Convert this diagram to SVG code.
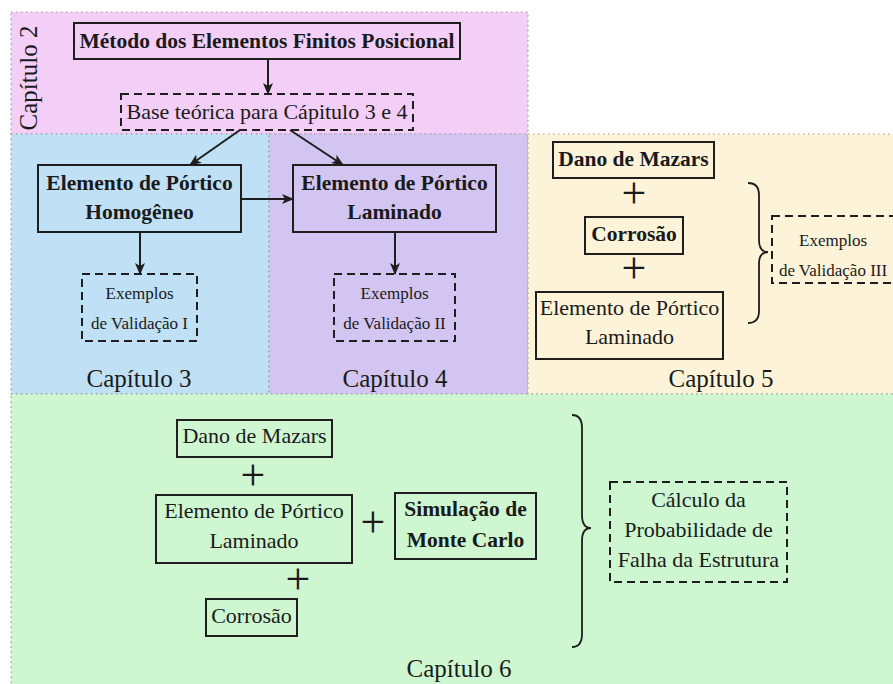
<svg xmlns="http://www.w3.org/2000/svg" width="893" height="684" viewBox="0 0 893 684" font-family="Liberation Serif, Times New Roman, serif">
<defs>
<style>
.reg{stroke:#9a9a9a;stroke-width:1.2;stroke-dasharray:1.5 3.5}
.box{fill:none;stroke:#1e1e1e;stroke-width:2}
.dbox{fill:none;stroke:#1e1e1e;stroke-width:2;stroke-dasharray:8 5}
.t{fill:#1a1a1a;text-anchor:middle}
.b{font-weight:bold;font-size:21.5px}
.n{font-size:22px}
.s{font-size:17px}
.cap{font-size:25px}
.plus{font-size:44px;fill:#1a1a1a;text-anchor:middle}
.con{fill:none;stroke:#1e1e1e;stroke-width:2}
.brace{fill:none;stroke:#1e1e1e;stroke-width:1.8}
</style>
<marker id="ah" viewBox="0 0 12 10" refX="11" refY="5" markerWidth="12" markerHeight="10" markerUnits="userSpaceOnUse" orient="auto">
<path d="M0,0 L12,5 L0,10 L3,5 Z" fill="#1e1e1e"/>
</marker>
</defs>
<rect width="893" height="684" fill="#ffffff"/>
<g id="regions">
<rect class="reg" x="11" y="12" width="517" height="122" fill="#f3cef7"/>
<rect class="reg" x="11" y="134" width="258" height="260" fill="#bfe0f5"/>
<rect class="reg" x="269" y="134" width="259" height="260" fill="#d2c5f1"/>
<rect class="reg" x="528" y="134" width="370" height="260" fill="#fdf3d8"/>
<rect class="reg" x="11" y="394" width="887" height="295" fill="#cdf6d1"/>
</g>
<g id="labels" font-family="Liberation Serif, serif">
<text class="t cap" transform="translate(37,78) rotate(-90)">Capítulo 2</text>
<text class="t cap" x="139" y="387">Capítulo 3</text>
<text class="t cap" x="395" y="387">Capítulo 4</text>
<text class="t cap" x="721" y="387">Capítulo 5</text>
<text class="t cap" x="459" y="677">Capítulo 6</text>
</g>
<g id="connectors">
<line class="con" x1="268" y1="59" x2="268" y2="94" marker-end="url(#ah)"/>
<line class="con" x1="240" y1="130" x2="190" y2="165" marker-end="url(#ah)"/>
<line class="con" x1="290" y1="130" x2="343" y2="165" marker-end="url(#ah)"/>
<line class="con" x1="241" y1="199" x2="293" y2="199" marker-end="url(#ah)"/>
<line class="con" x1="140" y1="232" x2="140" y2="274" marker-end="url(#ah)"/>
<line class="con" x1="395" y1="232" x2="395" y2="274" marker-end="url(#ah)"/>
<path class="brace" d="M748,183 Q759,183 759,195 L759,240 Q759,252 768,252 Q759,252 759,264 L759,311 Q759,323 748,323"/>
<path class="brace" d="M572,415 Q582,415 582,428 L582,515 Q582,528 591,528 Q582,528 582,541 L582,634 Q582,647 572,647"/>
</g>
<g id="n-metodo">
<rect class="box" x="74" y="23" width="386" height="36"/>
<text class="t b" x="267" y="48">Método dos Elementos Finitos Posicional</text>
</g>
<g id="n-base">
<rect class="dbox" x="121" y="94" width="292" height="36"/>
<text class="t n" x="267" y="119">Base teórica para Cápitulo 3 e 4</text>
</g>
<g id="n-homogeneo">
<rect class="box" x="38" y="165" width="203" height="67"/>
<text class="t b" x="139.5" y="190">Elemento de Pórtico</text>
<text class="t b" x="139.5" y="219">Homogêneo</text>
</g>
<g id="n-laminado4">
<rect class="box" x="293" y="165" width="203" height="67"/>
<text class="t b" x="394.5" y="190">Elemento de Pórtico</text>
<text class="t b" x="394.5" y="219">Laminado</text>
</g>
<g id="n-val1">
<rect class="dbox" x="82" y="274" width="115" height="67"/>
<text class="t s" x="139.5" y="299">Exemplos</text>
<text class="t s" x="139.5" y="329">de Validação I</text>
</g>
<g id="n-val2">
<rect class="dbox" x="334" y="274" width="121" height="67"/>
<text class="t s" x="394.5" y="299">Exemplos</text>
<text class="t s" x="394.5" y="329">de Validação II</text>
</g>
<g id="n-mazars5">
<rect class="box" x="553" y="142" width="161" height="36"/>
<text class="t b" x="633.5" y="166">Dano de Mazars</text>
</g>
<g id="p5a"><text class="plus" x="634" y="208">+</text></g>
<g id="n-corrosao5">
<rect class="box" x="585" y="217" width="98" height="37"/>
<text class="t b" x="634" y="241">Corrosão</text>
</g>
<g id="p5b"><text class="plus" x="634" y="283">+</text></g>
<g id="n-laminado5">
<rect class="box" x="536" y="292" width="187" height="67"/>
<text class="t n" x="629.5" y="315">Elemento de Pórtico</text>
<text class="t n" x="629.5" y="344">Laminado</text>
</g>
<g id="n-val3">
<rect class="dbox" x="772" y="216" width="130" height="67"/>
<text class="t s" x="833" y="246">Exemplos</text>
<text class="t s" x="833" y="276">de Validação III</text>
</g>
<g id="n-mazars6">
<rect class="box" x="177" y="420" width="155" height="37"/>
<text class="t n" x="254.5" y="443">Dano de Mazars</text>
</g>
<g id="p6a"><text class="plus" x="253" y="490">+</text></g>
<g id="n-laminado6">
<rect class="box" x="156" y="495" width="196" height="68"/>
<text class="t n" x="254" y="518">Elemento de Pórtico</text>
<text class="t n" x="254" y="548">Laminado</text>
</g>
<g id="p6b"><text class="plus" x="373" y="537">+</text></g>
<g id="n-monte">
<rect class="box" x="395" y="493" width="141" height="66"/>
<text class="t b" x="465.5" y="516">Simulação de</text>
<text class="t b" x="465.5" y="547">Monte Carlo</text>
</g>
<g id="p6c"><text class="plus" x="298" y="594">+</text></g>
<g id="n-corrosao6">
<rect class="box" x="206" y="599" width="91" height="37"/>
<text class="t n" x="251.5" y="623">Corrosão</text>
</g>
<g id="n-prob">
<rect class="dbox" x="610" y="482" width="177" height="100"/>
<text class="t n" x="698.5" y="507">Cálculo da</text>
<text class="t n" x="698.5" y="537">Probabilidade de</text>
<text class="t n" x="698.5" y="567">Falha da Estrutura</text>
</g>
</svg>
